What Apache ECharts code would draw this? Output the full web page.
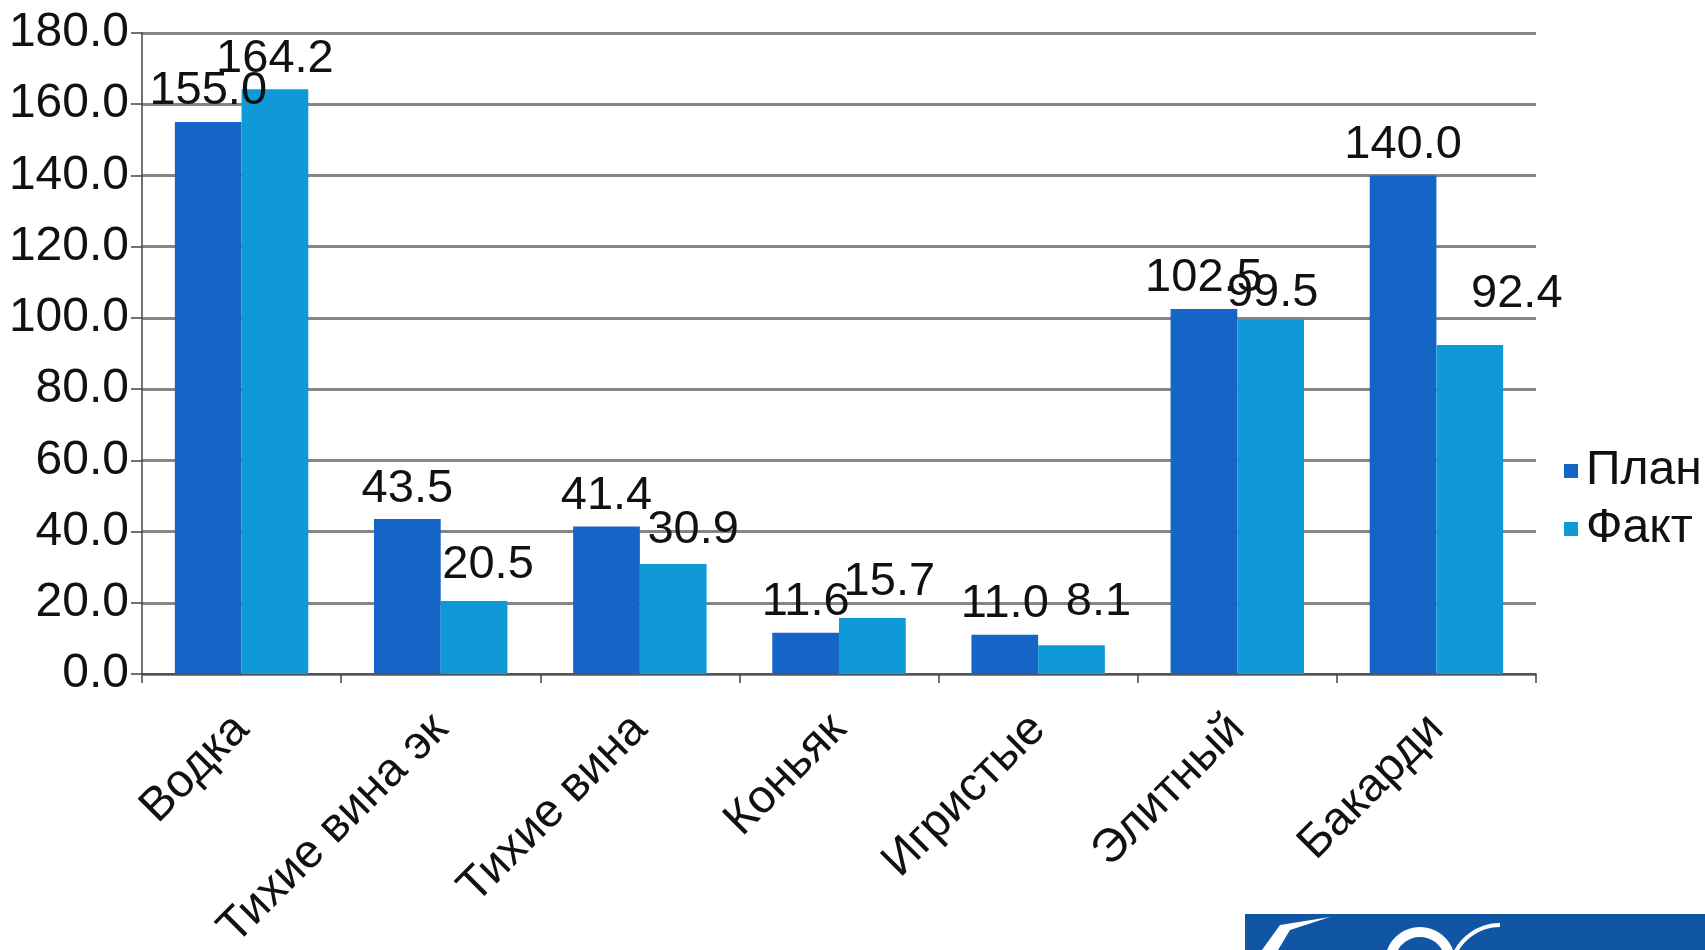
<!DOCTYPE html>
<html>
<head>
<meta charset="utf-8">
<script src="https://cdn.jsdelivr.net/npm/echarts@6/dist/echarts.min.js"></script>
<style>
html,body{margin:0;padding:0;background:#fff;}
#chart{width:1705px;height:950px;}
</style>
</head>
<body>
<div id="chart"></div>
<script>
const categories = ['Водка','Тихие вина эк','Тихие вина','Коньяк','Игристые','Элитный','Бакарди'];
const planValues = [155.0, 43.5, 41.4, 11.6, 11.0, 102.5, 140.0];
const factValues = [164.2, 20.5, 30.9, 15.7, 8.1, 99.5, 92.4];
const seriesNames = ['План','Факт'];
const yTicks = {min: 0, max: 180, interval: 20};
// manual label nudges of the "Факт" labels as in the original slide (style only)
const factLabelNudge = [[0,0],[14,-5],[20,-3],[17,-6],[27,-13],[2,4],[47,-20]];

const FONT = '"Liberation Sans", Arial, sans-serif';
const chart = echarts.init(document.getElementById('chart'));
const baseLabel = {
  show: true, position: 'top', distance: 7,
  fontFamily: FONT, fontSize: 47, color: '#111',
  formatter: p => Number(p.value).toFixed(1)
};
const factData = factValues.map((v, i) => ({
  value: v,
  label: {offset: factLabelNudge[i]}
}));
chart.setOption({
  animation: false,
  backgroundColor: '#ffffff',
  grid: {left: 142, right: 169, top: 33, bottom: 276, containLabel: false, outerBoundsMode: 'none'},
  legend: {
    data: seriesNames, orient: 'vertical', left: 1559, top: 442,
    itemWidth: 14, itemHeight: 14, itemGap: 10, icon: 'rect',
    textStyle: {fontFamily: FONT, fontSize: 48, color: '#111', lineHeight: 46, padding: [0,0,0,3]}
  },
  xAxis: {
    type: 'category', data: categories,
    axisLine: {lineStyle: {color: '#444', width: 1.5}},
    axisTick: {show: true, length: 9, alignWithLabel: false, lineStyle: {color: '#444', width: 1.5}},
    axisLabel: {rotate: 45, margin: 48, interval: 0, fontFamily: FONT, fontSize: 47, color: '#111'}
  },
  yAxis: {
    type: 'value', min: yTicks.min, max: yTicks.max, interval: yTicks.interval,
    axisLine: {show: true, lineStyle: {color: '#444', width: 1.5}},
    axisTick: {show: true, length: 11, lineStyle: {color: '#444', width: 1.5}},
    axisLabel: {margin: 13, fontFamily: FONT, fontSize: 48, color: '#111', formatter: v => v.toFixed(1)},
    splitLine: {lineStyle: {color: '#858585', width: 3}}
  },
  series: [
    {name: seriesNames[0], type: 'bar', data: planValues, barGap: '0%', barCategoryGap: '33%',
     itemStyle: {color: '#1565c6'}, label: baseLabel},
    {name: seriesNames[1], type: 'bar', data: factData, barGap: '0%', barCategoryGap: '33%',
     itemStyle: {color: '#0f9ad7'}, label: baseLabel}
  ],
  graphic: [
    {type: 'rect', left: 1245, top: 914, shape: {width: 460, height: 36}, style: {fill: '#1156a5'}},
    {type: 'arc', shape: {cx: 1420, cy: 962, r: 30, startAngle: Math.PI*1.05, endAngle: Math.PI*1.95}, style: {stroke: '#fff', lineWidth: 10, fill: null}},
    {type: 'polygon', shape: {points: [[1262,950],[1280,925],[1330,917],[1290,930],[1278,950]]}, style: {fill: '#fff'}},
    {type: 'arc', shape: {cx: 1500, cy: 975, r: 50, startAngle: Math.PI*1.1, endAngle: Math.PI*1.5}, style: {stroke: '#fff', lineWidth: 4, fill: null}}
  ]
});
</script>
</body>
</html>
